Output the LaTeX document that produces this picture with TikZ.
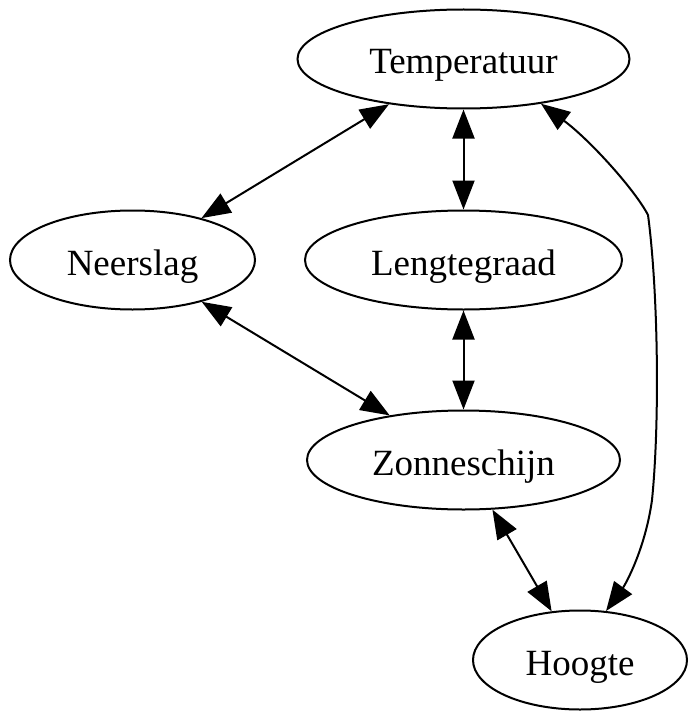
\documentclass[tikz,border=0pt]{standalone}
\usepackage{fontspec}
\setmainfont{Liberation Serif}
\usetikzlibrary{shapes.geometric,arrows.meta}
\begin{document}
\begin{tikzpicture}[x=0.5pt,y=-0.5pt,
  every node/.style={font=\fontsize{18.5pt}{22pt}\selectfont},
  nd/.style={draw, ellipse, line width=1pt, inner sep=0pt, minimum height=49.5pt, text height=15pt, text depth=0pt},
  edge/.style={line width=1pt, {Triangle[length=14.5pt,width=11pt]}-{Triangle[length=14.5pt,width=11pt]}}]
\useasboundingbox (0,0) rectangle (696,722);
\node[nd, minimum width=166pt] (t) at (463.5,59) {Temperatuur};
\node[nd, minimum width=122.5pt] (n) at (132.5,260) {Neerslag};
\node[nd, minimum width=158.5pt] (l) at (463.5,260) {Lengtegraad};
\node[nd, minimum width=156.5pt] (z) at (463.5,460) {Zonneschijn};
\node[nd, minimum width=107pt] (h) at (580,660) {Hoogte};
\draw[edge] (t) -- (n);
\draw[edge] (t) -- (l);
\draw[edge] (n) -- (z);
\draw[edge] (l) -- (z);
\draw[edge] (z) -- (h);
\coordinate (c1) at (648,215);
\coordinate (c2) at (652,500);
\draw[edge] (t.-30) .. controls (590,140) and (635,190) .. (c1)
  .. controls (658,290) and (660,420) .. (c2)
  .. controls (645,550) and (625,585) .. (h.62);
\end{tikzpicture}
\end{document}
